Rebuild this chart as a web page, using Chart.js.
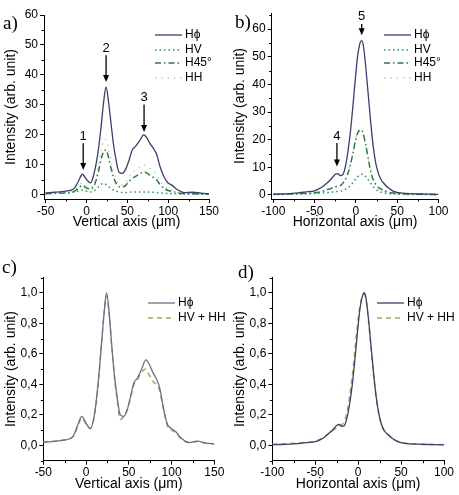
<!DOCTYPE html>
<html>
<head>
<meta charset="utf-8">
<script src="https://cdn.jsdelivr.net/npm/chart.js@4.4.0/dist/chart.umd.min.js"></script>
<style>
  body { margin: 0; background: #fff; }
  #page { position: relative; width: 459px; height: 495px; overflow: hidden; }
  .box { position: absolute; }
  .tag { position: absolute; font-family: "Liberation Serif", "Times New Roman", serif; font-size: 19px; line-height: 19px; color: #000; }
</style>
</head>
<body>
<div id="page">
  <div class="box" style="left:0;top:0;width:229px;height:240px"><canvas id="ga"></canvas></div>
  <div class="box" style="left:229px;top:0;width:230px;height:240px"><canvas id="gb"></canvas></div>
  <div class="box" style="left:0;top:250px;width:229px;height:245px"><canvas id="gc"></canvas></div>
  <div class="box" style="left:229px;top:250px;width:230px;height:245px"><canvas id="gd"></canvas></div>
  <div class="tag" style="left:3px;top:13px">a)</div>
  <div class="tag" style="left:235px;top:12px">b)</div>
  <div class="tag" style="left:2px;top:257px">c)</div>
  <div class="tag" style="left:238px;top:262px">d)</div>
</div>
<script>
// posiciones (um) del perfil vertical, paneles a y c
const xsVert = [-50, -40, -30, -20, -15, -10, -5, 0, 5, 10, 14, 18, 21, 24, 27, 30, 33, 36, 40, 44, 48, 52, 56, 60, 65, 70, 74, 78, 82, 86, 90, 95, 100, 105, 110, 120, 130, 140, 150];
const hphiA = [0.7, 0.9, 1.1, 1.5, 2.2, 4.5, 6.9, 5.2, 4.0, 8, 14, 23, 31, 36, 31, 24, 17, 12, 7.5, 7.2, 8.6, 11.5, 15, 16.2, 18, 20, 19, 17, 15.5, 13.5, 9.5, 6, 4, 3.2, 2, 0.8, 0.9, 0.6, 0.4];
const hvA = [0.5, 0.6, 0.7, 0.8, 1.0, 1.3, 1.6, 1.2, 1.0, 1.5, 2.5, 3.6, 3.8, 3.5, 2.8, 2.2, 1.7, 1.3, 1.0, 0.8, 0.8, 0.9, 1.0, 1.0, 1.0, 1.0, 1.0, 0.9, 0.9, 0.8, 0.7, 0.6, 0.5, 0.5, 0.4, 0.3, 0.3, 0.2, 0.2];
const h45A = [0.4, 0.5, 0.6, 0.8, 1.2, 2.2, 3.2, 2.3, 2.0, 3.5, 7, 12, 14.5, 15, 12.5, 9, 6, 4, 2.8, 2.6, 3.2, 4.5, 5.5, 6.2, 7, 7.6, 7.3, 6.5, 5.8, 5, 3.5, 2.2, 1.5, 1.2, 0.8, 0.4, 0.4, 0.3, 0.3];
const hhA = [0.6, 0.7, 0.8, 1.0, 1.5, 2.8, 4.0, 3.0, 2.5, 4.5, 9, 15, 18, 18.5, 15.5, 11.5, 8, 5.5, 3.5, 3.3, 4, 5.8, 7.5, 8.3, 9.2, 10, 9.7, 8.8, 7.8, 6.8, 4.8, 3, 2.0, 1.6, 1.0, 0.5, 0.5, 0.4, 0.3];
const hphiC = [0.02, 0.025, 0.032, 0.042, 0.06, 0.13, 0.19, 0.145, 0.11, 0.21, 0.4, 0.66, 0.86, 1.0, 0.87, 0.66, 0.47, 0.33, 0.2, 0.19, 0.23, 0.32, 0.41, 0.44, 0.5, 0.56, 0.53, 0.48, 0.44, 0.38, 0.26, 0.14, 0.11, 0.09, 0.055, 0.02, 0.028, 0.015, 0.01];
const sumC = [0.022, 0.027, 0.033, 0.042, 0.06, 0.12, 0.18, 0.14, 0.11, 0.2, 0.39, 0.66, 0.86, 0.98, 0.86, 0.65, 0.46, 0.32, 0.17, 0.19, 0.23, 0.31, 0.4, 0.43, 0.48, 0.5, 0.46, 0.42, 0.4, 0.36, 0.25, 0.13, 0.1, 0.085, 0.05, 0.018, 0.025, 0.014, 0.01];

// posiciones (um) del perfil horizontal, paneles b y d
const xsHor = [-100, -90, -80, -70, -60, -50, -45, -40, -35, -30, -25, -22, -19, -16, -13, -10, -7, -4, -1, 2, 5, 7, 9, 12, 15, 18, 21, 24, 27, 30, 35, 40, 45, 50, 60, 70, 80, 90, 100];
const hphiB = [0.3, 0.35, 0.5, 0.8, 1.1, 1.5, 2.2, 3.1, 4.3, 5.8, 7.5, 7.7, 7.0, 7.3, 10, 15, 22, 31, 41, 50, 55, 55.8, 54, 46, 36, 26, 17.5, 11.5, 8, 5.8, 3.8, 2.4, 1.4, 0.9, 0.6, 0.4, 0.35, 0.3, 0.2];
const hvB = [0.2, 0.2, 0.3, 0.3, 0.4, 0.5, 0.6, 0.7, 0.8, 1.0, 1.2, 1.3, 1.4, 1.6, 2.0, 2.5, 3.3, 4.3, 5.5, 6.6, 7.3, 7.5, 7.4, 6.6, 5.4, 4.2, 3.0, 2.1, 1.5, 1.1, 0.7, 0.5, 0.4, 0.3, 0.2, 0.2, 0.2, 0.15, 0.1];
const h45B = [0.3, 0.3, 0.4, 0.5, 0.6, 0.8, 1.0, 1.4, 1.9, 2.4, 3.0, 3.2, 3.4, 4.2, 5.5, 7.5, 10.5, 14.5, 19, 22.3, 23.5, 23.4, 22, 18, 13, 8.5, 5.5, 3.8, 2.8, 2.2, 1.5, 1.0, 0.7, 0.5, 0.4, 0.3, 0.3, 0.2, 0.2];
const hhB = [0.2, 0.3, 0.3, 0.4, 0.5, 0.7, 0.9, 1.2, 1.6, 2.1, 2.7, 3.0, 3.2, 4.0, 5.5, 8, 11, 15, 19.5, 22.3, 23, 22.8, 21.5, 17.5, 12.5, 8, 5.2, 3.5, 2.5, 1.9, 1.3, 0.9, 0.6, 0.4, 0.3, 0.3, 0.2, 0.2, 0.2];
const hphiD = [0.005, 0.006, 0.008, 0.012, 0.018, 0.025, 0.035, 0.05, 0.075, 0.1, 0.13, 0.137, 0.125, 0.13, 0.18, 0.27, 0.39, 0.55, 0.73, 0.89, 0.98, 1.0, 0.97, 0.83, 0.65, 0.47, 0.32, 0.21, 0.14, 0.1, 0.07, 0.045, 0.028, 0.018, 0.01, 0.008, 0.006, 0.005, 0.004];
const sumD = [0.008, 0.01, 0.012, 0.016, 0.02, 0.028, 0.04, 0.055, 0.075, 0.095, 0.115, 0.125, 0.135, 0.16, 0.22, 0.32, 0.45, 0.61, 0.78, 0.91, 0.98, 0.99, 0.96, 0.82, 0.64, 0.46, 0.31, 0.21, 0.14, 0.1, 0.07, 0.045, 0.03, 0.02, 0.012, 0.01, 0.008, 0.006, 0.005];

// marcas de los ejes
const ticksVert = [-50, 0, 50, 100, 150];
const ticksHor = [-100, -50, 0, 50, 100];
const ticksA = [0, 10, 20, 30, 40, 50, 60];
const ticksNorm = [0, 0.2, 0.4, 0.6, 0.8, 1.0];

// flechas numeradas (valores en unidades de datos)
const arrowTextA = ['1', '2', '3'];
const arrowXA = [-4, 24, 70.5];
const arrowLabelYA = [19.5, 49, 32.5];
const arrowTailA = [17.2, 46.6, 30.2];
const arrowTipA = [8.3, 37.7, 21];
const arrowTextB = ['4', '5'];
const arrowXB = [-23, 7];
const arrowLabelYB = [21.2, 64.6];
const arrowTailB = [18.8, 61.8];
const arrowTipB = [10.3, 57.8];

Chart.defaults.font.family = '"Liberation Sans", Arial, sans-serif';
Chart.defaults.color = '#000';

const pts = (xs, ys) => xs.map((x, i) => ({ x: x, y: ys[i] }));

function serie(label, xs, ys, color, dash, width) {
    return {
        label: label,
        data: pts(xs, ys),
        borderColor: color,
        borderDash: dash,
        borderWidth: width,
        pointRadius: 0,
        fill: false,
        cubicInterpolationMode: 'monotone'
    };
}

function extras(p) {
    return {
        id: 'extras',
        afterDraw(chart) {
            const ctx = chart.ctx;
            const sx = chart.scales.x, sy = chart.scales.y;
            const area = chart.chartArea;
            ctx.save();
            // ticks menores
            ctx.strokeStyle = '#000';
            ctx.lineWidth = 1;
            ctx.beginPath();
            for (let k = Math.ceil(sx.min / p.xMinor); k * p.xMinor <= sx.max + 1e-9; k++) {
                const v = k * p.xMinor;
                if (Math.abs(v / p.xMajor - Math.round(v / p.xMajor)) < 1e-6) continue;
                const px = Math.round(sx.getPixelForValue(v)) + 0.5;
                ctx.moveTo(px, area.bottom);
                ctx.lineTo(px, area.bottom + 2.5);
            }
            for (let k = Math.ceil(sy.min / p.yMinor - 1e-9); k * p.yMinor <= sy.max + 1e-9; k++) {
                const v = k * p.yMinor;
                if (Math.abs(v / p.yMajor - Math.round(v / p.yMajor)) < 1e-6) continue;
                const py = Math.round(sy.getPixelForValue(v)) + 0.5;
                ctx.moveTo(area.left, py);
                ctx.lineTo(area.left - 2.5, py);
            }
            ctx.stroke();

            // flechas
            if (p.arrows) {
                const a = p.arrows;
                ctx.fillStyle = '#000';
                ctx.lineWidth = 1.3;
                ctx.font = '13px "Liberation Sans", Arial, sans-serif';
                ctx.textAlign = 'center';
                ctx.textBaseline = 'middle';
                a.text.forEach((t, i) => {
                    const x = sx.getPixelForValue(a.x[i]);
                    const y0 = sy.getPixelForValue(a.tail[i]);
                    const y1 = sy.getPixelForValue(a.tip[i]);
                    ctx.beginPath();
                    ctx.moveTo(x, y0);
                    ctx.lineTo(x, y1 - 6);
                    ctx.stroke();
                    ctx.beginPath();
                    ctx.moveTo(x - 3, y1 - 7);
                    ctx.lineTo(x + 3, y1 - 7);
                    ctx.lineTo(x, y1);
                    ctx.closePath();
                    ctx.fill();
                    ctx.fillText(t, x, sy.getPixelForValue(a.labelY[i]));
                });
            }

            // leyenda
            ctx.font = '12px "Liberation Sans", Arial, sans-serif';
            ctx.textAlign = 'left';
            ctx.textBaseline = 'middle';
            chart.data.datasets.forEach((ds, i) => {
                const y = p.legendRows[i];
                ctx.strokeStyle = ds.borderColor;
                ctx.lineWidth = ds.borderWidth;
                ctx.setLineDash(ds.borderDash || []);
                ctx.beginPath();
                ctx.moveTo(p.legendX, y);
                ctx.lineTo(p.legendX + 27, y);
                ctx.stroke();
                ctx.setLineDash([]);
                ctx.fillStyle = '#000';
                ctx.fillText(ds.label, p.legendX + 30, y);
            });
            ctx.restore();
        }
    };
}

function panel(id, p) {
    return new Chart(document.getElementById(id), {
        type: 'line',
        data: { datasets: p.datasets },
        options: {
            responsive: true,
            maintainAspectRatio: false,
            animation: false,
            layout: { padding: { top: p.top, right: p.right, left: 0, bottom: 0 } },
            plugins: { legend: { display: false }, tooltip: { enabled: false } },
            scales: {
                x: {
                    type: 'linear',
                    min: p.xMin,
                    max: p.xMax,
                    afterFit: s => { s.height = p.xAxisH; },
                    afterBuildTicks: s => { s.ticks = p.xTicks.map(v => ({ value: v })); },
                    grid: { drawOnChartArea: false, tickLength: 4, color: '#000' },
                    border: { color: '#000', width: 1 },
                    ticks: { font: { size: 12 }, color: '#000', maxRotation: 0, padding: 1 },
                    title: { display: true, text: p.xTitle, font: { size: 14 }, color: '#000', padding: { top: 0, bottom: p.xTitlePad } }
                },
                y: {
                    min: p.yMin,
                    max: p.yMax,
                    afterFit: s => { s.width = p.left; },
                    afterBuildTicks: s => { s.ticks = p.yTicks.map(v => ({ value: v })); },
                    grid: { drawOnChartArea: false, tickLength: 4, color: '#000' },
                    border: { color: '#000', width: 1 },
                    ticks: { font: { size: 12 }, color: '#000', padding: 2, callback: p.yFmt },
                    title: { display: true, text: 'Intensity (arb. unit)', font: { size: 14 }, color: '#000', padding: { top: 3, bottom: 0 } }
                }
            }
        },
        plugins: [extras(p)]
    });
}

const coma = v => v.toFixed(1).replace('.', ',');

panel('ga', {
    datasets: [
        serie('H\u03d5', xsVert, hphiA, '#3b3e6b', [], 1.3),
        serie('HV', xsVert, hvA, '#2f8f5b', [1.5, 3], 1.5),
        serie('H45\u00b0', xsVert, h45A, '#2b7a48', [6, 3, 1.5, 3], 1.5),
        serie('HH', xsVert, hhA, '#a8cfa0', [1.3, 5], 1.3)
    ],
    top: 15, right: 20, left: 44, xAxisH: 41, xTitlePad: 9.5,
    xMin: -52, xMax: 150, yMin: -1.35, yMax: 60,
    xTicks: ticksVert, yTicks: ticksA, xMajor: 50, xMinor: 25, yMajor: 10, yMinor: 5,
    xTitle: 'Vertical axis (\u03bcm)',
    legendX: 155, legendRows: [35, 50, 63, 78],
    arrows: { text: arrowTextA, x: arrowXA, labelY: arrowLabelYA, tail: arrowTailA, tip: arrowTipA }
});

panel('gb', {
    datasets: [
        serie('H\u03d5', xsHor, hphiB, '#3b3e6b', [], 1.3),
        serie('HV', xsHor, hvB, '#2f8f5b', [1.5, 3], 1.5),
        serie('H45\u00b0', xsHor, h45B, '#2b7a48', [6, 3, 1.5, 3], 1.5),
        serie('HH', xsHor, hhB, '#a8cfa0', [1.3, 5], 1.3)
    ],
    top: 13, right: 20.5, left: 42.7, xAxisH: 41, xTitlePad: 9.5,
    xMin: -102, xMax: 100, yMin: -1.45, yMax: 65.8,
    xTicks: ticksHor, yTicks: ticksA, xMajor: 50, xMinor: 25, yMajor: 10, yMinor: 5,
    xTitle: 'Horizontal axis (\u03bcm)',
    legendX: 155, legendRows: [35, 50, 63, 78],
    arrows: { text: arrowTextB, x: arrowXB, labelY: arrowLabelYB, tail: arrowTailB, tip: arrowTipB }
});

panel('gc', {
    datasets: [
        serie('H\u03d5', xsVert, hphiC, '#6c6f88', [], 1.3),
        serie('HV + HH', xsVert, sumC, '#aaa45e', [5, 4], 1.5)
    ],
    top: 27.5, right: 14.7, left: 43.3, xAxisH: 34.3, xTitlePad: 2.5,
    xMin: -50, xMax: 150, yMin: -0.1, yMax: 1.1,
    xTicks: ticksVert, yTicks: ticksNorm, xMajor: 50, xMinor: 25, yMajor: 0.2, yMinor: 0.1,
    yFmt: coma,
    xTitle: 'Vertical axis (\u03bcm)',
    legendX: 148, legendRows: [53, 68]
});

panel('gd', {
    datasets: [
        serie('H\u03d5', xsHor, hphiD, '#3c3f68', [], 1.3),
        serie('HV + HH', xsHor, sumD, '#aaa45e', [5, 4], 1.5)
    ],
    top: 27.5, right: 15, left: 43.3, xAxisH: 34.3, xTitlePad: 2.5,
    xMin: -100, xMax: 100, yMin: -0.1, yMax: 1.1,
    xTicks: ticksHor, yTicks: ticksNorm, xMajor: 50, xMinor: 25, yMajor: 0.2, yMinor: 0.1,
    yFmt: coma,
    xTitle: 'Horizontal axis (\u03bcm)',
    legendX: 148, legendRows: [53, 68]
});
</script>
</body>
</html>
